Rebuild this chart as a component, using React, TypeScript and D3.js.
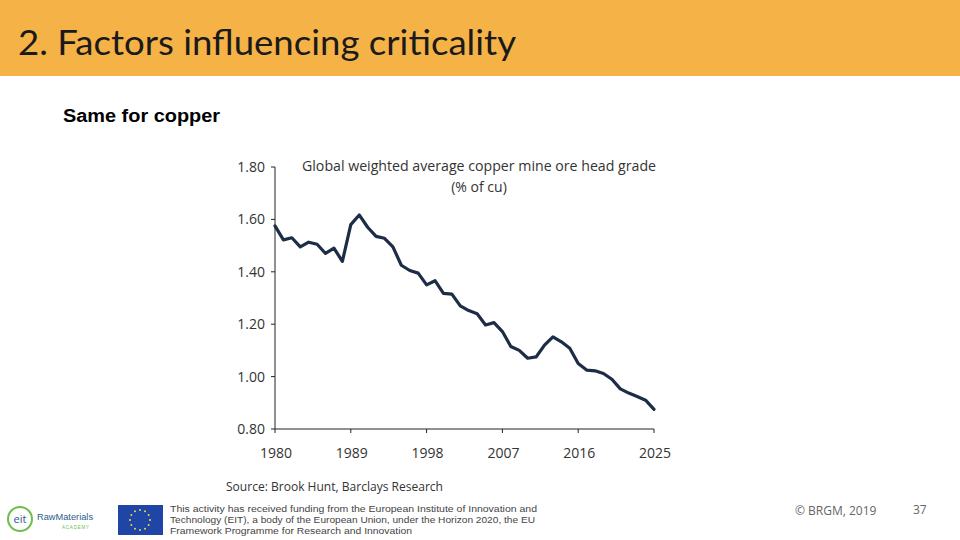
import React from "react";
import * as d3 from "d3";

const years = [1980,1981,1982,1983,1984,1985,1986,1987,1988,1989,1990,1991,1992,1993,1994,1995,1996,1997,1998,1999,2000,2001,2002,2003,2004,2005,2006,2007,2008,2009,2010,2011,2012,2013,2014,2015,2016,2017,2018,2019,2020,2021,2022,2023,2024,2025];
const grade = [1.575,1.522,1.53,1.495,1.513,1.505,1.47,1.49,1.44,1.58,1.617,1.57,1.535,1.528,1.495,1.425,1.405,1.395,1.35,1.366,1.318,1.315,1.27,1.252,1.24,1.197,1.206,1.172,1.115,1.1,1.07,1.075,1.12,1.152,1.133,1.108,1.05,1.025,1.022,1.012,0.99,0.953,0.937,0.924,0.91,0.875];
const yTicks = [0.8, 1.0, 1.2, 1.4, 1.6, 1.8];
const xTicks = [1980, 1989, 1998, 2007, 2016, 2025];
const footerLines = [
  "This activity has received funding from the European Institute of Innovation and",
  "Technology (EIT), a body of the European Union, under the Horizon 2020, the EU",
  "Framework Programme for Research and Innovation",
];
const footerWidths = [367, 365, 242];

export default function App() {
  const x = d3.scaleLinear().domain([1980, 2025]).range([275, 654]);
  const y = d3.scaleLinear().domain([0.8, 1.8]).range([429, 167]);
  const line = d3
    .line<number>()
    .x((_, i) => x(years[i]))
    .y((d) => y(d))
    .curve(d3.curveLinear);
  const data = grade;

  const stars = d3.range(12).map((i) => {
    const a = (i / 12) * Math.PI * 2;
    return [140 + 10 * Math.cos(a), 520 + 10 * Math.sin(a)];
  });

  return (
    <svg
      width={960}
      height={540}
      style={{ position: "absolute", left: 0, top: 0 }}
      viewBox="0 0 960 540"
    >
      <rect x={0} y={0} width={960} height={540} fill="#ffffff" />
      <rect x={0} y={0} width={960} height={76} fill="#F5B247" />
      <text x={18} y={55} fontFamily="Lato, 'Open Sans', sans-serif" fontSize={34} fill="#1a1a1a" textLength={498} lengthAdjust="spacingAndGlyphs">
        2. Factors influencing criticality
      </text>
      <text x={63} y={122} fontFamily="'Liberation Sans', Arial, sans-serif" fontSize={18} fontWeight="bold" fill="#000" textLength={157} lengthAdjust="spacingAndGlyphs">
        Same for copper
      </text>

      {/* chart title */}
      <text x={479} y={171} textAnchor="middle" fontFamily="'Open Sans', 'Noto Sans', sans-serif" fontSize={14} fill="#333" textLength={354} lengthAdjust="spacingAndGlyphs">
        Global weighted average copper mine ore head grade
      </text>
      <text x={479} y={192} textAnchor="middle" fontFamily="'Open Sans', 'Noto Sans', sans-serif" fontSize={14} fill="#333">
        (% of cu)
      </text>

      {/* axes */}
      <line x1={275} x2={275} y1={y(1.8)} y2={y(0.8)} stroke="#222" strokeWidth={1} />
      <line x1={275} x2={654} y1={y(0.8)} y2={y(0.8)} stroke="#222" strokeWidth={1} />
      {yTicks.map((t) => (
        <g key={t}>
          <line x1={271} x2={275} y1={y(t)} y2={y(t)} stroke="#222" />
          <text x={265} y={y(t) + 5} textAnchor="end" fontFamily="'Open Sans', 'Noto Sans', sans-serif" fontSize={14} fill="#333">
            {t.toFixed(2)}
          </text>
        </g>
      ))}
      {xTicks.map((t) => (
        <g key={t}>
          <line x1={x(t)} x2={x(t)} y1={429} y2={433} stroke="#222" />
          <text x={x(t) + 1} y={458} textAnchor="middle" fontFamily="'Open Sans', 'Noto Sans', sans-serif" fontSize={14} fill="#333">
            {t}
          </text>
        </g>
      ))}
      <path d={line(data) || ""} fill="none" stroke="#1d2d47" strokeWidth={3.2} strokeLinejoin="round" strokeLinecap="round" />

      <text x={226} y={491} fontFamily="'Open Sans', 'Noto Sans', sans-serif" fontSize={13} fill="#333" textLength={217} lengthAdjust="spacingAndGlyphs">
        Source: Brook Hunt, Barclays Research
      </text>

      {/* footer logos */}
      <circle cx={20} cy={519} r={12} fill="none" stroke="#6DBE4B" strokeWidth={2} />
      <text x={20} y={523} textAnchor="middle" fontFamily="'Open Sans', sans-serif" fontSize={11} fill="#2a5d8a">eit</text>
      <text x={37} y={520} fontFamily="'Liberation Sans', sans-serif" fontSize={9} fill="#2a5d8a" textLength={56} lengthAdjust="spacingAndGlyphs">RawMaterials</text>
      <text x={62} y={529} fontFamily="'Liberation Sans', sans-serif" fontSize={4.5} fill="#6DBE4B" letterSpacing={0.8}>ACADEMY</text>
      <rect x={118} y={505} width={45} height={30} fill="#1f46a6" />
      {stars.map((s, i) => (
        <circle key={i} cx={s[0]} cy={s[1]} r={1} fill="#f5d33b" />
      ))}
      {footerLines.map((l, i) => (
        <text key={i} x={170} y={512 + i * 11} fontFamily="'Liberation Sans', Arial, sans-serif" fontSize={9.2} fill="#444" textLength={footerWidths[i]} lengthAdjust="spacingAndGlyphs">
          {l}
        </text>
      ))}
      <text x={795} y={515} fontFamily="'Open Sans', sans-serif" fontSize={12} fill="#666">© BRGM, 2019</text>
      <text x={913} y={514} fontFamily="'Open Sans', sans-serif" fontSize={12} fill="#666">37</text>
    </svg>
  );
}
